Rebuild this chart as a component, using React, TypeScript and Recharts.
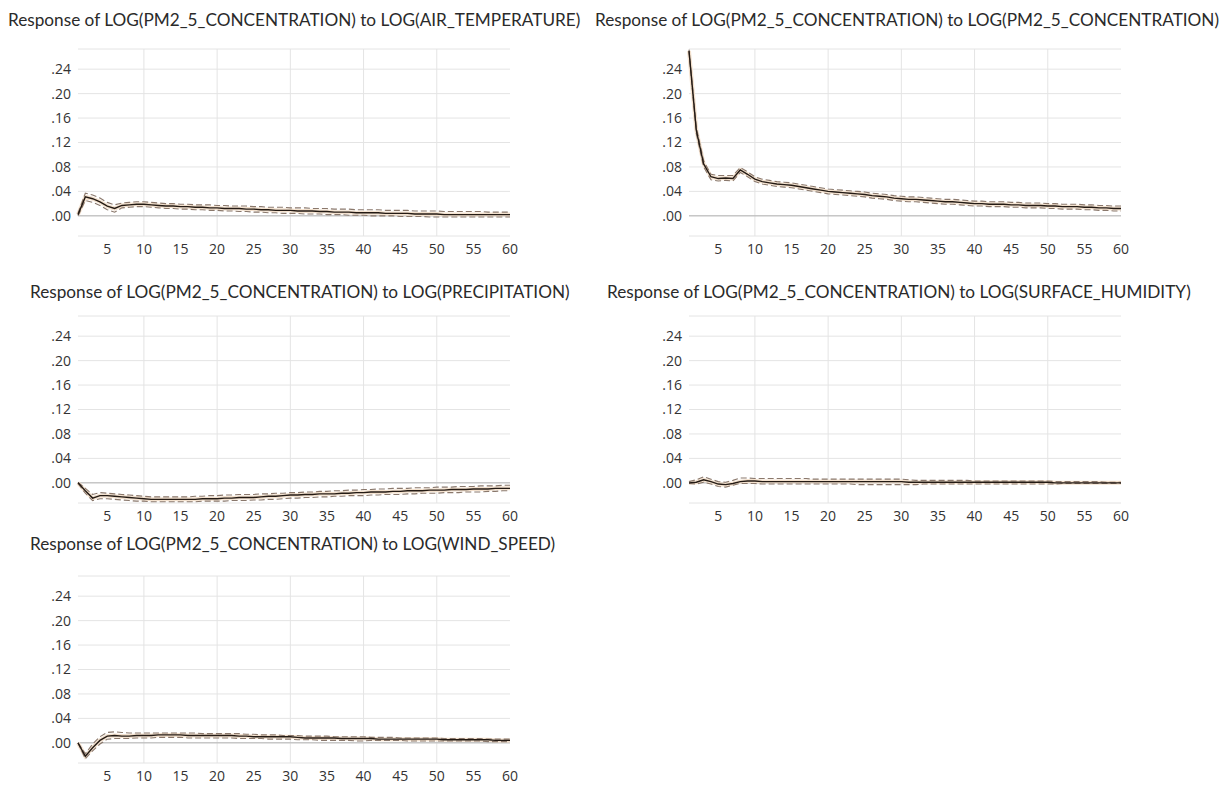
import React from 'react';
import { LineChart, Line, XAxis, YAxis, CartesianGrid, ReferenceLine } from 'recharts';

// impulse response periods and axis ticks
const PERIODS = Array.from({ length: 60 }, (_, i) => i + 1);
const X_TICKS = [5, 10, 15, 20, 25, 30, 35, 40, 45, 50, 55, 60];
const V_GRID = [10, 20, 30, 40, 50];
const Y_TICKS = [0, 0.04, 0.08, 0.12, 0.16, 0.2, 0.24];

// response to LOG(AIR_TEMPERATURE)
const AT_RESP = [
  0.002, 0.031, 0.028, 0.023, 0.016, 0.012, 0.017, 0.018, 0.019, 0.019,
  0.018, 0.017, 0.016, 0.016, 0.015, 0.015, 0.014, 0.014, 0.013, 0.013,
  0.012, 0.012, 0.012, 0.011, 0.011, 0.010, 0.010, 0.009, 0.009, 0.009,
  0.008, 0.008, 0.008, 0.007, 0.007, 0.006, 0.006, 0.006, 0.005, 0.005,
  0.005, 0.005, 0.004, 0.004, 0.004, 0.004, 0.003, 0.003, 0.003, 0.003,
  0.002, 0.002, 0.002, 0.002, 0.002, 0.002, 0.002, 0.002, 0.002, 0.002,
];
const AT_UPPER = [
  0.004, 0.037, 0.034, 0.029, 0.022, 0.018, 0.021, 0.022, 0.023, 0.023,
  0.022, 0.021, 0.020, 0.020, 0.019, 0.019, 0.018, 0.018, 0.018, 0.017,
  0.017, 0.016, 0.016, 0.016, 0.015, 0.015, 0.014, 0.014, 0.014, 0.013,
  0.013, 0.013, 0.012, 0.012, 0.012, 0.011, 0.011, 0.011, 0.010, 0.010,
  0.010, 0.010, 0.009, 0.009, 0.009, 0.009, 0.008, 0.008, 0.008, 0.008,
  0.007, 0.007, 0.007, 0.007, 0.007, 0.007, 0.006, 0.006, 0.006, 0.006,
];
const AT_LOWER = [
  0.000, 0.025, 0.022, 0.017, 0.010, 0.006, 0.013, 0.014, 0.015, 0.015,
  0.014, 0.013, 0.012, 0.012, 0.011, 0.011, 0.010, 0.010, 0.009, 0.009,
  0.008, 0.008, 0.007, 0.007, 0.006, 0.006, 0.005, 0.005, 0.004, 0.004,
  0.004, 0.003, 0.003, 0.003, 0.002, 0.002, 0.002, 0.001, 0.001, 0.001,
  0.000, 0.000, 0.000, 0.000, -0.001, -0.001, -0.001, -0.001, -0.002, -0.002,
  -0.002, -0.002, -0.002, -0.002, -0.002, -0.002, -0.002, -0.002, -0.002, -0.002,
];

// response to LOG(PM2_5_CONCENTRATION)
const PM_RESP = [
  0.270, 0.140, 0.085, 0.064, 0.061, 0.062, 0.061, 0.075, 0.068, 0.060,
  0.056, 0.054, 0.052, 0.051, 0.050, 0.048, 0.046, 0.044, 0.042, 0.040,
  0.039, 0.038, 0.037, 0.036, 0.035, 0.033, 0.032, 0.031, 0.029, 0.028,
  0.027, 0.027, 0.026, 0.025, 0.024, 0.023, 0.023, 0.022, 0.021, 0.020,
  0.020, 0.019, 0.019, 0.019, 0.018, 0.018, 0.017, 0.017, 0.017, 0.016,
  0.016, 0.015, 0.015, 0.015, 0.014, 0.014, 0.013, 0.013, 0.012, 0.012,
];
const PM_UPPER = [
  0.272, 0.145, 0.090, 0.068, 0.066, 0.066, 0.066, 0.079, 0.072, 0.064,
  0.060, 0.058, 0.056, 0.055, 0.054, 0.052, 0.050, 0.048, 0.046, 0.044,
  0.043, 0.042, 0.041, 0.040, 0.039, 0.037, 0.036, 0.035, 0.033, 0.032,
  0.031, 0.031, 0.030, 0.029, 0.028, 0.027, 0.027, 0.026, 0.025, 0.024,
  0.024, 0.023, 0.023, 0.023, 0.022, 0.022, 0.021, 0.021, 0.021, 0.020,
  0.020, 0.019, 0.019, 0.019, 0.018, 0.018, 0.017, 0.017, 0.016, 0.016,
];
const PM_LOWER = [
  0.268, 0.135, 0.080, 0.059, 0.057, 0.058, 0.057, 0.071, 0.064, 0.056,
  0.052, 0.050, 0.048, 0.047, 0.046, 0.044, 0.042, 0.040, 0.038, 0.036,
  0.035, 0.034, 0.033, 0.032, 0.031, 0.029, 0.028, 0.027, 0.025, 0.024,
  0.023, 0.023, 0.022, 0.021, 0.020, 0.019, 0.019, 0.018, 0.017, 0.016,
  0.016, 0.015, 0.015, 0.015, 0.014, 0.014, 0.013, 0.013, 0.013, 0.012,
  0.012, 0.011, 0.011, 0.011, 0.010, 0.010, 0.009, 0.009, 0.008, 0.008,
];

// response to LOG(PRECIPITATION)
const PR_RESP = [
  0.000, -0.013, -0.025, -0.021, -0.021, -0.022, -0.023, -0.024, -0.025, -0.026,
  -0.027, -0.027, -0.027, -0.027, -0.027, -0.027, -0.027, -0.026, -0.026, -0.026,
  -0.025, -0.025, -0.024, -0.024, -0.024, -0.023, -0.022, -0.022, -0.021, -0.020,
  -0.020, -0.019, -0.019, -0.018, -0.018, -0.018, -0.017, -0.017, -0.016, -0.016,
  -0.015, -0.015, -0.015, -0.014, -0.014, -0.013, -0.013, -0.013, -0.012, -0.012,
  -0.012, -0.011, -0.011, -0.011, -0.010, -0.010, -0.010, -0.009, -0.009, -0.009,
];
const PR_UPPER = [
  0.001, -0.009, -0.019, -0.016, -0.017, -0.018, -0.019, -0.020, -0.021, -0.022,
  -0.023, -0.023, -0.023, -0.023, -0.023, -0.023, -0.022, -0.022, -0.021, -0.021,
  -0.020, -0.020, -0.019, -0.019, -0.019, -0.018, -0.018, -0.017, -0.017, -0.016,
  -0.016, -0.015, -0.015, -0.014, -0.014, -0.013, -0.013, -0.012, -0.012, -0.011,
  -0.011, -0.010, -0.010, -0.009, -0.009, -0.009, -0.008, -0.008, -0.008, -0.007,
  -0.007, -0.007, -0.006, -0.006, -0.006, -0.005, -0.005, -0.005, -0.004, -0.004,
];
const PR_LOWER = [
  -0.001, -0.017, -0.029, -0.026, -0.026, -0.027, -0.028, -0.029, -0.030, -0.030,
  -0.031, -0.031, -0.031, -0.031, -0.031, -0.031, -0.031, -0.030, -0.030, -0.030,
  -0.030, -0.029, -0.029, -0.029, -0.028, -0.028, -0.027, -0.027, -0.026, -0.025,
  -0.025, -0.024, -0.024, -0.023, -0.023, -0.022, -0.022, -0.021, -0.021, -0.021,
  -0.020, -0.020, -0.019, -0.019, -0.019, -0.018, -0.018, -0.017, -0.017, -0.017,
  -0.016, -0.016, -0.016, -0.015, -0.015, -0.015, -0.014, -0.014, -0.013, -0.013,
];

// response to LOG(SURFACE_HUMIDITY)
const SH_RESP = [
  0.000, 0.001, 0.005, 0.002, -0.002, -0.003, -0.001, 0.002, 0.003, 0.003,
  0.002, 0.002, 0.002, 0.002, 0.002, 0.002, 0.002, 0.002, 0.002, 0.002,
  0.002, 0.002, 0.002, 0.002, 0.002, 0.002, 0.002, 0.002, 0.002, 0.002,
  0.001, 0.001, 0.001, 0.001, 0.001, 0.001, 0.001, 0.001, 0.001, 0.001,
  0.001, 0.001, 0.001, 0.001, 0.001, 0.001, 0.001, 0.001, 0.001, 0.001,
  0.000, 0.000, 0.000, 0.000, 0.000, 0.000, 0.000, 0.000, 0.000, 0.000,
];
const SH_UPPER = [
  0.002, 0.005, 0.010, 0.006, 0.002, 0.001, 0.004, 0.008, 0.008, 0.007,
  0.007, 0.007, 0.007, 0.007, 0.007, 0.007, 0.007, 0.006, 0.006, 0.006,
  0.006, 0.006, 0.006, 0.006, 0.006, 0.006, 0.006, 0.006, 0.006, 0.006,
  0.005, 0.004, 0.004, 0.004, 0.004, 0.004, 0.004, 0.004, 0.004, 0.003,
  0.003, 0.003, 0.003, 0.003, 0.003, 0.003, 0.003, 0.003, 0.003, 0.003,
  0.002, 0.002, 0.002, 0.002, 0.002, 0.002, 0.002, 0.001, 0.001, 0.001,
];
const SH_LOWER = [
  -0.001, -0.002, 0.001, -0.002, -0.006, -0.007, -0.004, -0.001, -0.001, -0.001,
  -0.002, -0.002, -0.002, -0.002, -0.002, -0.002, -0.002, -0.002, -0.002, -0.002,
  -0.002, -0.002, -0.002, -0.003, -0.003, -0.003, -0.003, -0.003, -0.003, -0.003,
  -0.003, -0.003, -0.002, -0.002, -0.002, -0.002, -0.002, -0.002, -0.002, -0.002,
  -0.002, -0.002, -0.002, -0.002, -0.002, -0.002, -0.002, -0.002, -0.002, -0.002,
  -0.002, -0.001, -0.001, -0.001, -0.001, -0.001, -0.001, -0.001, -0.001, -0.001,
];

// response to LOG(WIND_SPEED)
const WS_RESP = [
  0.000, -0.022, -0.008, 0.004, 0.011, 0.012, 0.011, 0.011, 0.012, 0.012,
  0.012, 0.013, 0.013, 0.013, 0.013, 0.012, 0.012, 0.012, 0.012, 0.012,
  0.012, 0.012, 0.011, 0.011, 0.010, 0.010, 0.010, 0.010, 0.010, 0.010,
  0.009, 0.008, 0.008, 0.008, 0.008, 0.008, 0.007, 0.007, 0.007, 0.007,
  0.007, 0.006, 0.006, 0.006, 0.006, 0.006, 0.006, 0.006, 0.006, 0.006,
  0.005, 0.005, 0.005, 0.005, 0.005, 0.005, 0.005, 0.004, 0.004, 0.004,
];
const WS_UPPER = [
  0.000, -0.018, -0.002, 0.010, 0.017, 0.018, 0.017, 0.016, 0.016, 0.016,
  0.016, 0.016, 0.016, 0.016, 0.016, 0.016, 0.016, 0.015, 0.015, 0.015,
  0.015, 0.015, 0.015, 0.014, 0.014, 0.013, 0.013, 0.013, 0.012, 0.012,
  0.012, 0.011, 0.011, 0.011, 0.011, 0.010, 0.010, 0.010, 0.010, 0.010,
  0.009, 0.009, 0.009, 0.009, 0.008, 0.008, 0.008, 0.008, 0.008, 0.008,
  0.007, 0.007, 0.007, 0.007, 0.007, 0.007, 0.006, 0.006, 0.006, 0.006,
];
const WS_LOWER = [
  0.000, -0.026, -0.013, -0.002, 0.006, 0.007, 0.007, 0.007, 0.008, 0.008,
  0.008, 0.009, 0.009, 0.009, 0.009, 0.008, 0.008, 0.008, 0.008, 0.008,
  0.008, 0.008, 0.007, 0.007, 0.007, 0.007, 0.006, 0.006, 0.006, 0.006,
  0.005, 0.005, 0.005, 0.004, 0.004, 0.004, 0.004, 0.004, 0.003, 0.003,
  0.004, 0.004, 0.004, 0.004, 0.004, 0.003, 0.003, 0.003, 0.003, 0.003,
  0.003, 0.003, 0.003, 0.003, 0.003, 0.003, 0.002, 0.002, 0.002, 0.002,
];

const FONT = '"Open Sans", "DejaVu Sans", sans-serif';
const TITLE_FONT = 'Lato, "Open Sans", sans-serif';

type PanelProps = {
  title: string;
  resp: number[];
  upper: number[];
  lower: number[];
  left: number;
  top: number;
  titleLeft: number;
  titleTop: number;
};

const fmtY = (v: number) => v.toFixed(2).replace(/^0/, '');

function Panel({ title, resp, upper, lower, left, top, titleLeft, titleTop }: PanelProps) {
  const data = PERIODS.map((t, i) => ({ t, resp: resp[i], upper: upper[i], lower: lower[i] }));
  const tick = { fill: '#333', fontSize: 14, fontFamily: FONT };

  return (
    <>
      <div
        style={{
          position: 'absolute',
          left: titleLeft,
          top: titleTop,
          fontFamily: TITLE_FONT,
          fontSize: 17.2,
          color: '#2a2a2a',
          whiteSpace: 'nowrap',
          lineHeight: '20px',
        }}
      >
        {title}
      </div>
      <div style={{ position: 'absolute', left, top }}>
        <LineChart width={530} height={220} data={data} margin={{ top: 5, right: 20, left: 0, bottom: 0 }}>
          <CartesianGrid vertical={false} stroke="#e4e4e4" />
          {V_GRID.map((x) => (
            <ReferenceLine key={x} x={x} stroke="#e4e4e4" />
          ))}
          <ReferenceLine y={0} stroke="#b5b5b5" />
          <XAxis
            type="number"
            dataKey="t"
            domain={[1, 60]}
            ticks={X_TICKS}
            axisLine={false}
            tickLine={false}
            tickSize={0}
            tickMargin={8}
            height={28}
            tick={tick}
            interval={0}
          />
          <YAxis
            type="number"
            domain={[-0.033, 0.273]}
            ticks={Y_TICKS}
            allowDataOverflow
            axisLine={false}
            tickLine={false}
            tickSize={0}
            tickMargin={7}
            width={78}
            tick={tick}
            tickFormatter={fmtY}
          />
          {/* soft halo under the curves, as in the source image */}
          <Line dataKey="resp" stroke="#f4e2cf" strokeWidth={4} dot={false} isAnimationActive={false} />
          <Line dataKey="upper" stroke="#8a786c" strokeWidth={1.1} strokeDasharray="6 3" dot={false} isAnimationActive={false} />
          <Line dataKey="lower" stroke="#8a786c" strokeWidth={1.1} strokeDasharray="6 3" dot={false} isAnimationActive={false} />
          <Line dataKey="resp" stroke="#231a14" strokeWidth={1.4} dot={false} isAnimationActive={false} />
        </LineChart>
      </div>
    </>
  );
}

export default function App() {
  return (
    <div
      style={{
        position: 'absolute',
        left: 0,
        top: 0,
        width: 1228,
        height: 787,
        overflow: 'hidden',
        background: '#fff',
      }}
    >
      <Panel
        title="Response of LOG(PM2_5_CONCENTRATION) to LOG(AIR_TEMPERATURE)"
        resp={AT_RESP}
        upper={AT_UPPER}
        lower={AT_LOWER}
        left={0}
        top={44}
        titleLeft={8}
        titleTop={10}
      />
      <Panel
        title="Response of LOG(PM2_5_CONCENTRATION) to LOG(PM2_5_CONCENTRATION)"
        resp={PM_RESP}
        upper={PM_UPPER}
        lower={PM_LOWER}
        left={611}
        top={44}
        titleLeft={595}
        titleTop={10}
      />
      <Panel
        title="Response of LOG(PM2_5_CONCENTRATION) to LOG(PRECIPITATION)"
        resp={PR_RESP}
        upper={PR_UPPER}
        lower={PR_LOWER}
        left={0}
        top={311}
        titleLeft={30}
        titleTop={282}
      />
      <Panel
        title="Response of LOG(PM2_5_CONCENTRATION) to LOG(SURFACE_HUMIDITY)"
        resp={SH_RESP}
        upper={SH_UPPER}
        lower={SH_LOWER}
        left={611}
        top={311}
        titleLeft={607}
        titleTop={282}
      />
      <Panel
        title="Response of LOG(PM2_5_CONCENTRATION) to LOG(WIND_SPEED)"
        resp={WS_RESP}
        upper={WS_UPPER}
        lower={WS_LOWER}
        left={0}
        top={571}
        titleLeft={30}
        titleTop={534}
      />
    </div>
  );
}
